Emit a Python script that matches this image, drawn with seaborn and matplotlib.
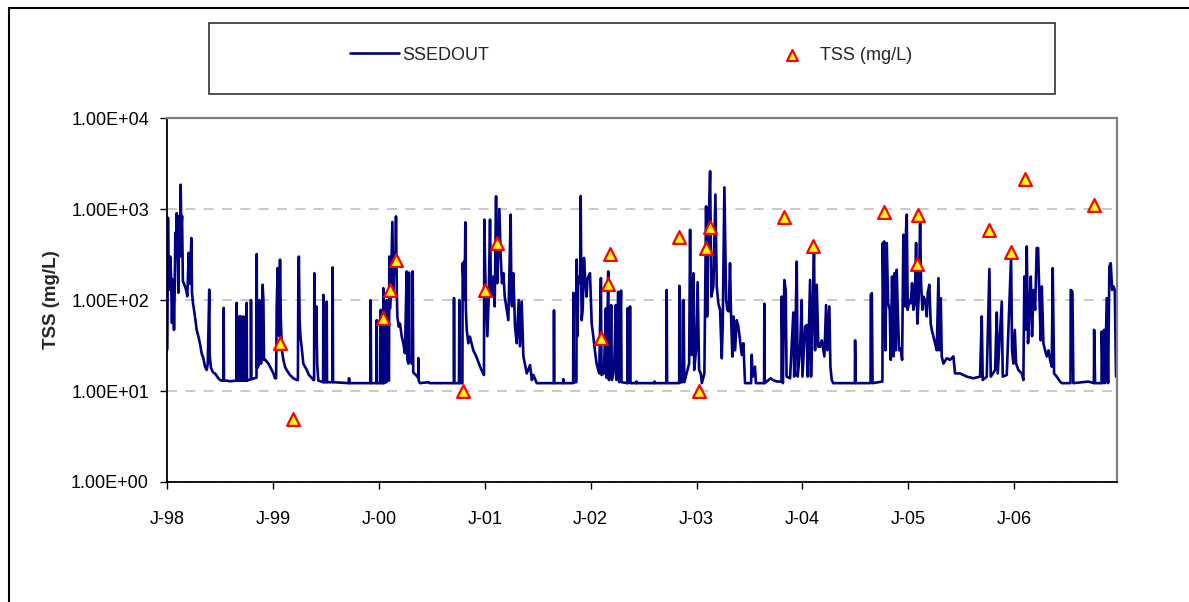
import matplotlib
matplotlib.use("Agg")
import matplotlib.pyplot as plt
from matplotlib.patches import Rectangle
from matplotlib.ticker import FuncFormatter, NullLocator
import pandas as pd
import seaborn as sns

# SSEDOUT simulated series (decimal year, mg/L)
ssed_year = [
    # 1998
    1998.000, 1998.003, 1998.009, 1998.015, 1998.022, 1998.030, 1998.038, 1998.047,
    1998.055, 1998.060, 1998.066, 1998.072, 1998.079, 1998.085, 1998.091, 1998.100,
    1998.107, 1998.116, 1998.122, 1998.129, 1998.135, 1998.142, 1998.150, 1998.158,
    1998.170, 1998.180, 1998.192, 1998.205, 1998.210, 1998.217, 1998.230, 1998.236,
    1998.245, 1998.264, 1998.280, 1998.296, 1998.312, 1998.327, 1998.343, 1998.359,
    1998.375, 1998.385, 1998.399, 1998.403, 1998.415, 1998.435, 1998.455, 1998.485,
    1998.500,
    1998.520, 1998.533, 1998.535, 1998.538, 1998.560, 1998.600, 1998.656, 1998.658,
    1998.661, 1998.680, 1998.683, 1998.686, 1998.694, 1998.696, 1998.699, 1998.719,
    1998.721, 1998.724, 1998.750, 1998.752, 1998.755, 1998.791, 1998.793, 1998.796,
    1998.845, 1998.847, 1998.851, 1998.856, 1998.870, 1998.872, 1998.880, 1998.888,
    1998.903, 1998.910, 1998.916, 1998.929, 1998.957, 1998.973, 1999.004, 1999.020,
    # 1999
    1999.030, 1999.036, 1999.045, 1999.051, 1999.060, 1999.067, 1999.075, 1999.085,
    1999.099, 1999.114, 1999.130, 1999.161, 1999.193, 1999.224, 1999.236, 1999.240,
    1999.245, 1999.252,
    1999.260, 1999.272, 1999.287, 1999.320, 1999.340, 1999.366, 1999.382, 1999.389,
    1999.391, 1999.397, 1999.404, 1999.410, 1999.418, 1999.429, 1999.474, 1999.476,
    1999.479, 1999.506, 1999.508, 1999.511, 1999.562, 1999.564, 1999.568, 1999.716,
    1999.719, 1999.722, 1999.920, 1999.923, 1999.927, 1999.978, 1999.980, 1999.984,
    # 2000
    2000.016, 2000.018, 2000.022, 2000.041, 2000.043, 2000.047, 2000.072, 2000.074,
    2000.078, 2000.096, 2000.099, 2000.105, 2000.112, 2000.128, 2000.137, 2000.147,
    2000.155, 2000.162, 2000.170, 2000.175, 2000.188, 2000.200, 2000.216, 2000.232,
    2000.247, 2000.263, 2000.270, 2000.279,
    2000.285, 2000.290, 2000.310, 2000.318, 2000.320, 2000.325, 2000.350, 2000.372,
    2000.373, 2000.376, 2000.389, 2000.470, 2000.480, 2000.708, 2000.710, 2000.713,
    2000.757, 2000.760, 2000.763, 2000.789, 2000.792, 2000.800, 2000.804, 2000.810,
    2000.817, 2000.822, 2000.830, 2000.845, 2000.860, 2000.892, 2000.920, 2000.956,
    # 2001
    2000.985, 2000.993, 2000.996, 2001.005, 2001.012, 2001.025, 2001.038, 2001.050,
    2001.058, 2001.063, 2001.082, 2001.094, 2001.107, 2001.113, 2001.119, 2001.138,
    2001.151, 2001.163, 2001.176, 2001.189, 2001.208, 2001.223, 2001.245, 2001.252,
    2001.258, 2001.270, 2001.286, 2001.302, 2001.321, 2001.333, 2001.349, 2001.365,
    2001.397, 2001.428, 2001.445, 2001.460, 2001.491,
    2001.652, 2001.654, 2001.657, 2001.740, 2001.742, 2001.745, 2001.835, 2001.837,
    2001.842, 2001.866, 2001.868, 2001.875, 2001.884, 2001.900, 2001.906, 2001.915,
    # 2002
    2001.925, 2001.937, 2001.950, 2001.962, 2001.970, 2001.978, 2001.994, 2002.010,
    2002.025, 2002.040, 2002.056, 2002.081, 2002.097, 2002.103, 2002.125, 2002.144,
    2002.150, 2002.166, 2002.172, 2002.185, 2002.194, 2002.200, 2002.215, 2002.225,
    2002.237, 2002.245, 2002.260, 2002.270, 2002.287, 2002.292, 2002.346, 2002.348,
    2002.352, 2002.370, 2002.372, 2002.375, 2002.430, 2002.433, 2002.436, 2002.600,
    2002.603, 2002.606, 2002.716, 2002.718, 2002.722, 2002.836, 2002.838, 2002.842,
    2002.866, 2002.870, 2002.877, 2002.885, 2002.930, 2002.939, 2002.946, 2002.955,
    # 2003
    2002.970, 2002.978, 2002.995, 2003.010, 2003.024, 2003.040, 2003.050, 2003.074,
    2003.090, 2003.100, 2003.110, 2003.128, 2003.140, 2003.159, 2003.178, 2003.191,
    2003.206, 2003.222, 2003.238, 2003.247, 2003.263, 2003.279, 2003.291, 2003.304,
    2003.316, 2003.326, 2003.338, 2003.348, 2003.364, 2003.379, 2003.395, 2003.411,
    2003.427, 2003.442, 2003.458, 2003.515, 2003.521, 2003.530, 2003.552, 2003.560,
    2003.638, 2003.640, 2003.644, 2003.700, 2003.720, 2003.760, 2003.802, 2003.804,
    2003.815, 2003.829, 2003.842, 2003.850, 2003.883, 2003.899, 2003.914, 2003.922,
    # 2004
    2003.930, 2003.946, 2003.955, 2003.977, 2003.993, 2004.000, 2004.025, 2004.040,
    2004.050, 2004.072, 2004.081, 2004.097, 2004.109, 2004.119, 2004.135, 2004.150,
    2004.166, 2004.182, 2004.197, 2004.207, 2004.223, 2004.235, 2004.254, 2004.264,
    2004.277, 2004.290, 2004.495, 2004.497, 2004.503, 2004.643, 2004.645, 2004.655,
    2004.662, 2004.755, 2004.758, 2004.765, 2004.771, 2004.783, 2004.796, 2004.809,
    2004.824,
    2004.834, 2004.846, 2004.859, 2004.868, 2004.881, 2004.890, 2004.900, 2004.912,
    2004.928, 2004.941, 2004.953, 2004.963, 2004.969, 2004.978, 2004.985, 2004.994,
    # 2005
    2005.009, 2005.023, 2005.035, 2005.047, 2005.060, 2005.073, 2005.085, 2005.098,
    2005.111, 2005.120, 2005.133, 2005.142, 2005.158, 2005.174, 2005.183, 2005.198,
    2005.211, 2005.221, 2005.236, 2005.252, 2005.268, 2005.284, 2005.293, 2005.306,
    2005.315, 2005.331, 2005.362, 2005.394, 2005.425, 2005.441, 2005.488, 2005.551,
    2005.614, 2005.677, 2005.693, 2005.702, 2005.740, 2005.765, 2005.778, 2005.819,
    2005.835, 2005.844, 2005.882, 2005.891, 2005.929, 2005.970, 2005.979, 2005.992,
    # 2006
    2006.005, 2006.017, 2006.039, 2006.071, 2006.086, 2006.095, 2006.105, 2006.118,
    2006.130, 2006.143, 2006.156, 2006.168, 2006.181, 2006.197, 2006.212, 2006.225,
    2006.237, 2006.250, 2006.260, 2006.275, 2006.291, 2006.307, 2006.323, 2006.338,
    2006.354, 2006.363, 2006.376, 2006.401, 2006.432, 2006.448, 2006.531, 2006.533,
    2006.549, 2006.558, 2006.700, 2006.752, 2006.754, 2006.763, 2006.824, 2006.826,
    2006.836, 2006.848, 2006.857, 2006.873, 2006.886, 2006.898, 2006.911, 2006.924,
    2006.936, 2006.949, 2006.961, 2006.967,
]
ssed_val = [
    # 1998
    28, 30, 800, 200, 130, 300, 190, 56,
    170, 160, 47, 120, 550, 300, 900, 400,
    120, 840, 300, 1850, 600, 840, 160, 154,
    140, 130, 110, 330, 150, 154, 480, 120,
    93, 66, 47, 40, 33, 26, 23, 18.5,
    17, 20, 130, 25, 18, 16, 15.5, 13.8,
    13.2,
    13, 13, 82, 13, 13, 12.8, 13, 93,
    13, 13, 66, 13, 13, 66, 13, 13,
    66, 13, 13, 93, 13, 13.5, 100, 13.5,
    14, 320, 18, 18, 20, 100, 93, 20,
    147, 100, 22, 22, 20, 18.5, 15.7, 13.8,
    # 1999
    13.8, 85, 225, 60, 40, 278, 60, 28,
    22, 18.5, 17, 15, 13.8, 13.2, 13.2, 154,
    300, 60,
    40, 30, 20, 17, 15, 14, 13.2, 13.2,
    197, 60, 30, 85, 20, 13, 12.5, 114,
    12.5, 12.5, 96, 12.5, 12.5, 228, 12.5, 12.2,
    13.8, 12.2, 12.2, 99, 12.2, 12.2, 60, 12.2,
    # 2000
    12.2, 78, 12.2, 12.2, 135, 12.2, 12.5, 100,
    13, 13, 300, 80, 110, 720, 110, 330,
    200, 830, 120, 66, 51, 55, 40, 33,
    26, 206, 22, 20,
    200, 25, 20, 20, 206, 16, 15, 14,
    23, 13, 12.2, 12.5, 12.2, 12.2, 105, 12.2,
    12.2, 100, 12.2, 12.2, 254, 150, 264, 100,
    713, 80, 47, 33.5, 39.6, 28, 24, 18.5,
    # 2001
    15.6, 15, 764, 200, 109, 40, 109, 764,
    150, 109, 181, 85, 1380, 200, 153, 1000,
    300, 153, 197, 109, 78, 60, 867, 100,
    85, 197, 51, 33.5, 100, 31, 96, 24,
    15.6, 19.3, 13.2, 15, 12.2,
    12.2, 77, 12.2, 12.2, 13.5, 12.2, 12.2, 120,
    12.5, 12.5, 278, 40, 180, 153, 1390, 60,
    # 2002
    78, 290, 160, 109, 167, 180, 197, 55,
    40, 28, 20, 15.6, 174, 15, 15.6, 81,
    14, 206, 13.2, 14.4, 88, 13.2, 15.6, 24,
    88, 13.2, 123, 12.5, 127, 12.5, 12.2, 81,
    12.2, 12.7, 85, 12.2, 12.2, 12.7, 12.2, 12.2,
    12.7, 12.2, 12.2, 129, 12.2, 12.2, 143, 12.5,
    12.5, 96, 100, 12.5, 20, 591, 60, 24.9,
    # 2003
    197, 17, 28, 157, 17, 15.6, 12.2, 15.6,
    1070, 66, 459, 2600, 109, 141, 1440, 141,
    92, 78, 22.9, 51, 1730, 100, 78, 75,
    254, 66, 23.9, 66, 28, 60, 51, 36,
    24.9, 33.5, 12.2, 12.2, 25, 14.4, 18.5, 12.2,
    12.2, 91, 12.2, 13.8, 13.2, 12.7, 12.7, 109,
    12.2, 166, 129, 14.4, 13.8, 33.5, 73, 14.4,
    # 2004
    25, 264, 14.4, 28, 100, 14.4, 51, 53,
    14.4, 166, 14.4, 81, 357, 28, 147, 30.7,
    30.7, 36, 28, 24, 88, 28, 85, 18.5,
    13.2, 12.2, 12.2, 36, 12.2, 12.2, 114, 119,
    12.2, 12.7, 423, 100, 440, 28, 423, 92,
    78,
    22, 181, 24, 197, 28, 215, 78, 28,
    29.5, 22, 521, 500, 85, 591, 867, 78,
    # 2005
    100, 92, 153, 78, 92, 423, 55, 109,
    700, 153, 78, 109, 100, 66, 119, 147,
    55, 47, 40, 33.5, 28, 174, 28, 105,
    24, 20, 22.9, 22, 24, 15.6, 15.6, 14.4,
    13.8, 14.4, 66, 13.2, 14.4, 219, 14.4, 17,
    73, 15.6, 96, 14.4, 15, 300, 28, 20,
    # 2006
    47, 20, 17, 15.6, 13.2, 181, 47, 387,
    33.5, 85, 181, 40, 129, 78, 373, 373,
    109, 36, 141, 33.5, 28, 24, 28, 22,
    18.5, 224, 15.6, 14.4, 12.7, 12.2, 12.2, 129,
    124, 12.2, 12.7, 12.2, 47, 12.2, 12.2, 45,
    12.2, 47, 12.2, 105, 12.2, 233, 254, 129,
    141, 129, 14.4, 15,
]

# observed TSS samples
tss_year = [1999.067, 1999.187, 2000.043, 2000.106, 2000.162, 2000.798,
            2000.998, 2001.119, 2002.095, 2002.167, 2002.183, 2002.835,
            2003.024, 2003.090, 2003.125, 2003.830, 2004.097, 2004.770,
            2005.095, 2005.079, 2005.765, 2005.970, 2006.105, 2006.756]
tss_val = [34, 4.9, 64, 129, 275, 9.9,
           129, 426, 38.5, 150, 320, 490,
           9.9, 369, 640, 812, 393, 927,
           851, 246, 588, 338, 2129, 1107]

year_ticks = [1998, 1999, 2000, 2001, 2002, 2003, 2004, 2005, 2006]
year_labels = ["J-98", "J-99", "J-00", "J-01", "J-02", "J-03", "J-04", "J-05", "J-06"]
y_ticks = [1, 10, 100, 1000, 10000]

assert len(ssed_year) == len(ssed_val)

sns.set_style("white")
plt.rcParams["font.family"] = ["Liberation Sans", "DejaVu Sans"]

W, H = 1189, 602
fig = plt.figure(figsize=(W / 100, H / 100), dpi=100)
fig.patch.set_facecolor("white")


def box(x0, y0, x1, y1):
    # pixel box (top-left origin) -> figure fraction rect
    return [x0 / W, 1 - y1 / H, (x1 - x0) / W, (y1 - y0) / H]


ax = fig.add_axes(box(167, 118, 1117, 482))

sim = pd.DataFrame({"year": ssed_year, "value": ssed_val})
obs = pd.DataFrame({"year": tss_year, "value": tss_val})

sns.lineplot(data=sim, x="year", y="value", ax=ax, color="#000080",
             linewidth=1.9, estimator=None, sort=False, label="SSEDOUT", zorder=2)
sns.scatterplot(data=obs, x="year", y="value", ax=ax, marker="^", s=85,
                color="#ffff00", edgecolor="#ff0000", linewidth=1.6,
                label="TSS (mg/L)", zorder=3)
if ax.get_legend() is not None:
    ax.get_legend().remove()

ax.set_yscale("log")
ax.set_ylim(1, 10000)
ax.set_xlim(1998, 2006.97)
ax.set_yticks(y_ticks)
ax.yaxis.set_minor_locator(NullLocator())
ax.yaxis.set_major_formatter(FuncFormatter(lambda v, _: f"{v:.2E}"))
ax.set_xticks(year_ticks)
ax.set_xticklabels(year_labels)
ax.xaxis.set_minor_locator(NullLocator())

ax.tick_params(axis="both", which="major", direction="out", length=5, width=1,
               color="#000000", labelsize=13, labelcolor="#000000",
               left=True, bottom=True)
ax.tick_params(axis="x", pad=16)
ax.tick_params(axis="y", pad=8)

ax.set_xlabel("")
ax.set_ylabel("TSS (mg/L)", fontsize=13.5, fontweight="bold", labelpad=8)

ax.yaxis.grid(True, color="#c0c0c0", linestyle=(0, (6, 5)), linewidth=1.2)
ax.xaxis.grid(False)
ax.set_axisbelow(True)

for s in ["left", "bottom"]:
    ax.spines[s].set_color("#000000")
    ax.spines[s].set_linewidth(1.3)
for s in ["top", "right"]:
    ax.spines[s].set_color("#808080")
    ax.spines[s].set_linewidth(1.6)

# chart area border (runs off the right/bottom of the picture)
fig.add_artist(Rectangle((9 / W, -0.2), 1.2, 1.2 - 8 / H, transform=fig.transFigure,
                         fill=False, edgecolor="#000000", linewidth=1.5))

# legend frame and entries
fig.add_artist(Rectangle((209 / W, 1 - 94 / H), (1055 - 209) / W, (94 - 23) / H,
                         transform=fig.transFigure, fill=False,
                         edgecolor="#202020", linewidth=1.1))
line_handle = ax.lines[0]
pts_handle = ax.collections[0]
fig.legend([line_handle], ["SSEDOUT"], loc="center left",
           bbox_to_anchor=(350 / W, 1 - 55 / H), frameon=False, fontsize=13,
           handlelength=2.7, handletextpad=0.2, borderpad=0, borderaxespad=0)
fig.legend([pts_handle], ["TSS (mg/L)"], loc="center left",
           bbox_to_anchor=(782 / W, 1 - 55 / H), frameon=False, fontsize=13,
           handlelength=1.1, handletextpad=1.0, borderpad=0, borderaxespad=0,
           scatterpoints=1, markerscale=0.85)

fig.savefig("out.png", dpi=100)
